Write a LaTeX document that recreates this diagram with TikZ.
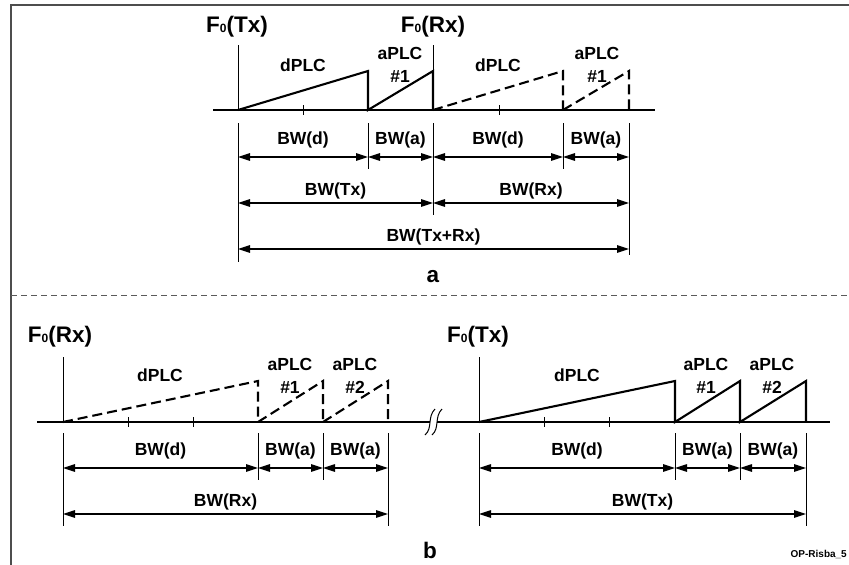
\documentclass[tikz,border=0pt]{standalone}
\usepackage{fontspec}
\setmainfont{Liberation Sans}
\usetikzlibrary{arrows.meta,positioning,calc}
\definecolor{framegray}{HTML}{4D4D4D}
\definecolor{sepgray}{HTML}{5A5A5A}
\newcommand{\fzero}{F{\fontsize{12}{12}\selectfont 0}}
\tikzset{
  axisln/.style={line width=2.8pt},
  saw/.style={line width=2.1pt, line join=miter},
  sawd/.style={saw, dash pattern=on 10pt off 5pt},
  ext/.style={line width=.8pt},
  fline/.style={line width=1pt},
  dim/.style={{Triangle[length=12pt,width=7.5pt]}-{Triangle[length=12pt,width=7.5pt]}, line width=1.2pt},
  flbl/.style={font=\fontsize{22.5}{22.5}\selectfont\bfseries, inner sep=0pt},
  plbl/.style={font=\fontsize{17.5}{23}\selectfont\bfseries, align=center, inner sep=0pt},
  bwlbl/.style={font=\fontsize{17.5}{17.5}\selectfont\bfseries},
}

\begin{document}
\begin{tikzpicture}[x=1pt,y=-1pt]
    \useasboundingbox (0,0) rectangle (849,565);
    \draw[line width=1.6pt, draw=framegray] (849,5) -- (11,5) -- (11,565);
    \draw[line width=1pt, draw=sepgray, dash pattern=on 6pt off 4pt] (11,295) -- (849,295);

    % a
    \foreach \n/\x in {0/238,1/368,2/433,3/563,4/629} \coordinate (a\n) at (\x,110);
    \coordinate (aL) at (213,110);
    \coordinate (aR) at (655,110);
    \draw[axisln] (aL) -- (aR);
    \foreach \x in {303,499} \draw[ext] (\x,105) -- (\x,115);
    \node[flbl] (f0txa) at (237,27) {\fzero(Tx)};
    \node[flbl] (f0rxa) at (433,27) {\fzero(Rx)};
    \draw[fline] (a0) -- ++(0,-65);
    \draw[fline] (a2) -- ++(0,-65);
    \draw[saw] (a0) -- ([yshift=39pt]a1) -- (a1) -- ([yshift=39pt]a2) -- (a2);
    \draw[sawd] (a2) -- ([yshift=39pt]a3) -- (a3);
    \draw[sawd] (a3) -- ([yshift=39pt]a4) -- (a4);
    \node[plbl] (dplca1) at (303,65) {dPLC};
    \node[plbl] (aplca1) at (400,65) {aPLC\\\#1};
    \node[plbl] (dplca2) at (498,65) {dPLC};
    \node[plbl] (aplca2) at (597,65) {aPLC\\\#1};
    \foreach \n/\e in {0/152,1/59,2/105,3/59,4/145} \draw[ext] ([yshift=-13pt]a\n) -- ([yshift=-\e pt]a\n);
    \draw[dim] ([yshift=-47pt]a0) -- node[bwlbl, above=5pt] {BW(d)} ([yshift=-47pt]a1);
    \draw[dim] ([yshift=-47pt]a1) -- node[bwlbl, above=5pt] {BW(a)} ([yshift=-47pt]a2);
    \draw[dim] ([yshift=-47pt]a2) -- node[bwlbl, above=5pt] {BW(d)} ([yshift=-47pt]a3);
    \draw[dim] ([yshift=-47pt]a3) -- node[bwlbl, above=5pt] {BW(a)} ([yshift=-47pt]a4);
    \draw[dim] ([yshift=-93pt]a0) -- node[bwlbl, above=0pt] {BW(Tx)} ([yshift=-93pt]a2);
    \draw[dim] ([yshift=-93pt]a2) -- node[bwlbl, above=0pt] {BW(Rx)} ([yshift=-93pt]a4);
    \draw[dim] ([yshift=-139pt]a0) -- node[bwlbl, above=0pt] {BW(Tx+Rx)} ([yshift=-139pt]a4);
    \node[flbl] (capa) at (433,277) {a};

    % b
    \foreach \n/\x in {0/63,1/258,2/323,3/388} \coordinate (b\n) at (\x,422);
    \foreach \n/\x in {0/479,1/675,2/740,3/806} \coordinate (c\n) at (\x,422);
    \coordinate (bL) at (37,422);
    \coordinate (bM) at (430,422);
    \coordinate (cM) at (437,422);
    \coordinate (cR) at (830,422);
    \draw[axisln] (bL) -- (bM);
    \draw[axisln] (cM) -- (cR);
    \draw[line width=1pt] (425,435) .. controls (433,428) and (427,417) .. (435,409);
    \draw[line width=1pt] (432,435) .. controls (440,428) and (434,417) .. (442,409);
    \foreach \x in {128,193,544,609} \draw[ext] (\x,417) -- (\x,427);
    \node[flbl] (f0rxb) at (60,337) {\fzero(Rx)};
    \node[flbl] (f0txb) at (478,337) {\fzero(Tx)};
    \draw[fline] (b0) -- ++(0,-65);
    \draw[fline] (c0) -- ++(0,-65);
    \draw[sawd] (b0) -- ([yshift=41pt]b1) -- (b1);
    \draw[sawd] (b1) -- ([yshift=41pt]b2) -- (b2);
    \draw[sawd] (b2) -- ([yshift=41pt]b3) -- (b3);
    \draw[saw] (c0) -- ([yshift=41pt]c1) -- (c1) -- ([yshift=41pt]c2) -- (c2) -- ([yshift=41pt]c3) -- (c3);
    \node[plbl] (dplcb) at (160,375) {dPLC};
    \node[plbl] (aplcb1) at (290,376) {aPLC\\\#1};
    \node[plbl] (aplcb2) at (355,376) {aPLC\\\#2};
    \node[plbl] (dplcc) at (577,375) {dPLC};
    \node[plbl] (aplcc1) at (706,376) {aPLC\\\#1};
    \node[plbl] (aplcc2) at (772,376) {aPLC\\\#2};
    \foreach \n/\e in {0/104,1/58,2/58,3/104} {
      \draw[ext] ([yshift=-11pt]b\n) -- ([yshift=-\e pt]b\n);
      \draw[ext] ([yshift=-11pt]c\n) -- ([yshift=-\e pt]c\n);
    }
    \draw[dim] ([yshift=-46pt]b0) -- node[bwlbl, above=5pt] {BW(d)} ([yshift=-46pt]b1);
    \draw[dim] ([yshift=-46pt]b1) -- node[bwlbl, above=5pt] {BW(a)} ([yshift=-46pt]b2);
    \draw[dim] ([yshift=-46pt]b2) -- node[bwlbl, above=5pt] {BW(a)} ([yshift=-46pt]b3);
    \draw[dim] ([yshift=-92pt]b0) -- node[bwlbl, above=0pt] {BW(Rx)} ([yshift=-92pt]b3);
    \draw[dim] ([yshift=-46pt]c0) -- node[bwlbl, above=5pt] {BW(d)} ([yshift=-46pt]c1);
    \draw[dim] ([yshift=-46pt]c1) -- node[bwlbl, above=5pt] {BW(a)} ([yshift=-46pt]c2);
    \draw[dim] ([yshift=-46pt]c2) -- node[bwlbl, above=5pt] {BW(a)} ([yshift=-46pt]c3);
    \draw[dim] ([yshift=-92pt]c0) -- node[bwlbl, above=0pt] {BW(Tx)} ([yshift=-92pt]c3);
    \node[flbl] (capb) at (430,550) {b};
    \node[font=\fontsize{10}{10}\selectfont\bfseries, anchor=east, inner sep=0pt] (risba) at (847,554) {OP-Risba\_5};
  \end{tikzpicture}
\end{document}
